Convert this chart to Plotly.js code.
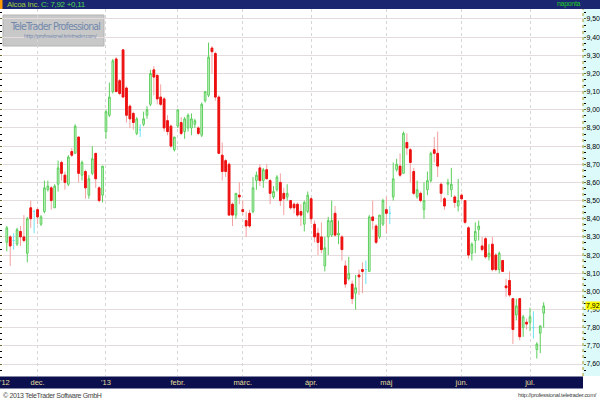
<!DOCTYPE html>
<html>
<head>
<meta charset="utf-8">
<script src="https://cdn.plot.ly/plotly-3.0.1.min.js"></script>
<style>html,body{margin:0;padding:0;background:#fff;}#chart{width:600px;height:400px;}</style>
</head>
<body>
<div id="chart"></div>
<script>
// ---- data (daily candles, Alcoa Inc.) ----
const dates = [
"2012-11-19","2012-11-20","2012-11-21","2012-11-23","2012-11-26","2012-11-27","2012-11-28","2012-11-29","2012-11-30",
"2012-12-03","2012-12-04","2012-12-05","2012-12-06","2012-12-07","2012-12-10","2012-12-11","2012-12-12","2012-12-13","2012-12-14",
"2012-12-17","2012-12-18","2012-12-19","2012-12-20","2012-12-21","2012-12-24","2012-12-26","2012-12-27","2012-12-28","2012-12-31",
"2013-01-02","2013-01-03","2013-01-04","2013-01-07","2013-01-08","2013-01-09","2013-01-10","2013-01-11","2013-01-14","2013-01-15",
"2013-01-16","2013-01-17","2013-01-18","2013-01-22","2013-01-23","2013-01-24","2013-01-25","2013-01-28","2013-01-29","2013-01-30","2013-01-31",
"2013-02-01","2013-02-04","2013-02-05","2013-02-06","2013-02-07","2013-02-08","2013-02-11","2013-02-12","2013-02-13","2013-02-14",
"2013-02-15","2013-02-19","2013-02-20","2013-02-21","2013-02-22","2013-02-25","2013-02-26","2013-02-27","2013-02-28",
"2013-03-01","2013-03-04","2013-03-05","2013-03-06","2013-03-07","2013-03-08","2013-03-11","2013-03-12","2013-03-13","2013-03-14",
"2013-03-15","2013-03-18","2013-03-19","2013-03-20","2013-03-21","2013-03-22","2013-03-25","2013-03-26","2013-03-27","2013-03-28",
"2013-04-01","2013-04-02","2013-04-03","2013-04-04","2013-04-05","2013-04-08","2013-04-09","2013-04-10","2013-04-11","2013-04-12",
"2013-04-15","2013-04-16","2013-04-17","2013-04-18","2013-04-19","2013-04-22","2013-04-23","2013-04-24","2013-04-25","2013-04-26",
"2013-04-29","2013-04-30",
"2013-05-01","2013-05-02","2013-05-03","2013-05-06","2013-05-07","2013-05-08","2013-05-09","2013-05-10","2013-05-13","2013-05-14",
"2013-05-15","2013-05-16","2013-05-17","2013-05-20","2013-05-21","2013-05-22","2013-05-23","2013-05-24","2013-05-28","2013-05-29",
"2013-05-30","2013-05-31",
"2013-06-03","2013-06-04","2013-06-05","2013-06-06","2013-06-07","2013-06-10","2013-06-11","2013-06-12","2013-06-13","2013-06-14",
"2013-06-17","2013-06-18","2013-06-19","2013-06-20","2013-06-21","2013-06-24","2013-06-25","2013-06-26","2013-06-27","2013-06-28",
"2013-07-01","2013-07-02","2013-07-03","2013-07-05","2013-07-08"
];
const open = [
8.27,8.30,8.28,8.26,8.33,8.30,8.21,8.46,8.44,
8.45,8.37,8.44,8.56,8.57,8.46,8.59,8.71,8.64,8.59,
8.77,8.76,8.85,8.64,8.66,8.53,8.65,8.76,8.57,8.53,
8.88,8.97,9.10,9.28,9.16,9.33,9.12,9.02,8.98,8.87,
8.89,8.92,8.97,9.03,9.22,9.19,9.07,9.06,8.94,8.91,8.78,
8.91,8.93,8.88,8.90,8.90,8.92,8.90,8.86,9.05,9.08,
9.34,9.31,9.07,8.75,8.72,8.70,8.48,8.42,8.53,
8.45,8.39,8.43,8.44,8.61,8.68,8.61,8.67,8.61,8.52,
8.56,8.60,8.54,8.52,8.50,8.48,8.48,8.44,8.37,8.44,
8.51,8.37,8.32,8.30,8.14,8.30,8.31,8.43,8.31,8.30,
8.14,8.07,8.04,7.99,8.09,8.12,8.12,8.11,8.41,8.36,
8.30,8.37,
8.45,8.43,8.52,8.67,8.69,8.65,8.82,8.78,8.66,8.52,
8.54,8.45,8.56,8.61,8.78,8.76,8.59,8.51,8.59,8.56,
8.52,8.47,
8.53,8.50,8.35,8.21,8.28,8.34,8.25,8.29,8.19,8.26,
8.20,8.12,8.17,8.03,8.06,7.96,7.87,7.96,7.80,7.83,
7.83,7.80,7.68,7.77,7.88
];
const high = [
8.36,8.31,8.32,8.35,8.36,8.42,8.41,8.50,8.45,
8.46,8.42,8.61,8.61,8.58,8.59,8.72,8.72,8.66,8.75,
8.79,8.92,8.85,8.72,8.67,8.64,8.80,8.76,8.58,8.69,
9.00,9.15,9.28,9.29,9.17,9.33,9.13,9.03,8.99,8.96,
8.92,8.99,9.02,9.22,9.24,9.19,9.14,9.07,8.97,8.92,8.85,
9.00,8.96,8.96,8.98,8.98,8.95,8.91,9.04,9.10,9.37,
9.35,9.32,9.08,8.82,8.73,8.71,8.49,8.54,8.60,
8.50,8.44,8.45,8.63,8.66,8.70,8.68,8.70,8.62,8.58,
8.64,8.65,8.57,8.59,8.50,8.49,8.49,8.48,8.50,8.55,
8.52,8.39,8.35,8.38,8.30,8.41,8.50,8.47,8.39,8.31,
8.17,8.19,8.06,8.09,8.12,8.16,8.17,8.42,8.50,8.37,
8.42,8.51,
8.52,8.47,8.71,8.73,8.76,8.88,8.87,8.79,8.68,8.61,
8.55,8.60,8.66,8.77,8.85,8.88,8.60,8.52,8.62,8.68,
8.53,8.62,
8.54,8.50,8.36,8.27,8.38,8.39,8.30,8.30,8.26,8.30,
8.21,8.22,8.17,8.07,8.11,7.96,7.96,7.96,7.87,7.85,
7.91,7.89,7.72,7.81,7.94
];
const low = [
8.22,8.14,8.23,8.25,8.25,8.27,8.16,8.35,8.32,
8.37,8.36,8.43,8.55,8.45,8.46,8.55,8.61,8.56,8.58,
8.74,8.76,8.60,8.61,8.51,8.51,8.64,8.57,8.49,8.49,
8.84,8.96,9.09,9.10,9.08,9.07,8.93,8.90,8.89,8.86,
8.85,8.91,8.95,9.02,9.08,9.03,9.02,8.88,8.86,8.79,8.77,
8.90,8.86,8.84,8.88,8.86,8.90,8.86,8.85,9.04,9.07,
9.20,9.05,8.76,8.61,8.63,8.42,8.36,8.40,8.48,
8.42,8.30,8.35,8.43,8.56,8.58,8.57,8.62,8.48,8.51,
8.55,8.47,8.42,8.50,8.45,8.43,8.41,8.36,8.33,8.43,
8.37,8.27,8.20,8.21,8.11,8.20,8.30,8.30,8.26,8.17,
8.02,8.06,7.93,7.90,7.98,7.99,8.04,8.11,8.34,8.26,
8.29,8.36,
8.32,8.37,8.50,8.66,8.63,8.65,8.75,8.60,8.53,8.51,
8.49,8.40,8.53,8.60,8.71,8.63,8.49,8.45,8.53,8.52,
8.46,8.44,
8.50,8.37,8.18,8.17,8.21,8.28,8.22,8.18,8.17,8.11,
8.11,8.10,8.11,7.97,7.97,7.71,7.84,7.73,7.75,7.79,
7.78,7.74,7.63,7.66,7.80
];
const close = [
8.35,8.25,8.28,8.34,8.30,8.28,8.40,8.40,8.44,
8.41,8.41,8.57,8.58,8.50,8.58,8.68,8.65,8.60,8.74,
8.75,8.91,8.65,8.71,8.57,8.62,8.73,8.62,8.50,8.69,
8.99,9.07,9.27,9.10,9.09,9.07,8.97,8.95,8.93,8.95,
8.89,8.95,9.00,9.20,9.18,9.06,9.03,8.90,8.88,8.80,8.85,
9.00,8.87,8.95,8.97,8.95,8.94,8.87,9.03,9.10,9.29,
9.32,9.07,8.76,8.66,8.66,8.42,8.42,8.54,8.52,
8.44,8.36,8.36,8.57,8.64,8.61,8.67,8.62,8.54,8.55,
8.63,8.50,8.51,8.54,8.46,8.46,8.42,8.42,8.49,8.53,
8.40,8.30,8.27,8.23,8.24,8.39,8.39,8.31,8.32,8.23,
8.04,8.10,7.96,8.02,8.08,8.11,8.12,8.41,8.39,8.27,
8.42,8.50,
8.43,8.43,8.62,8.70,8.64,8.87,8.79,8.71,8.54,8.56,
8.50,8.50,8.61,8.76,8.76,8.69,8.54,8.47,8.60,8.59,
8.49,8.50,
8.51,8.38,8.20,8.26,8.33,8.36,8.23,8.19,8.21,8.12,
8.12,8.21,8.11,8.02,7.98,7.79,7.92,7.75,7.86,7.82,
7.86,7.80,7.71,7.81,7.92
];
const monthTicks = ["2012-12-03","2013-01-02","2013-02-01","2013-03-01","2013-04-01","2013-05-01","2013-06-03","2013-07-01"];
const monthLabels = ["dec.","'13","febr.","márc.","ápr.","máj","jún.","júl."];
const firstYearLabel = "'12";
const instrument = "Alcoa Inc.";

// ---- split candles by kind ----
function pick(arr, idx){ return idx.map(i => arr[i]); }
const upIdx = [], downIdx = [], dojiIdx = [];
close.forEach((c, i) => { if (c > open[i]) upIdx.push(i); else if (c < open[i]) downIdx.push(i); else dojiIdx.push(i); });

const common = { type: 'candlestick', hoverinfo: 'skip', showlegend: false, whiskerwidth: 0 };
const upTrace = Object.assign({}, common, {
  x: pick(dates, upIdx), open: pick(open, upIdx), high: pick(high, upIdx), low: pick(low, upIdx), close: pick(close, upIdx),
  increasing: { line: { color: '#5ccf5c', width: 1 }, fillcolor: '#d4f6d4' },
  decreasing: { line: { color: '#5ccf5c', width: 1 }, fillcolor: '#d4f6d4' }
});
const downWick = Object.assign({}, common, {
  x: pick(dates, downIdx), open: pick(open, downIdx), high: pick(high, downIdx), low: pick(low, downIdx), close: pick(close, downIdx),
  increasing: { line: { color: '#f4a0a0', width: 1 }, fillcolor: '#ee1111' },
  decreasing: { line: { color: '#f4a0a0', width: 1 }, fillcolor: '#ee1111' }
});
const downBody = Object.assign({}, common, {
  x: pick(dates, downIdx), open: pick(open, downIdx), close: pick(close, downIdx),
  high: pick(open, downIdx), low: pick(close, downIdx),
  increasing: { line: { color: '#ee1111', width: 1 }, fillcolor: '#ee1111' },
  decreasing: { line: { color: '#ee1111', width: 1 }, fillcolor: '#ee1111' }
});
const dojiTrace = Object.assign({}, common, {
  x: pick(dates, dojiIdx), open: pick(open, dojiIdx), high: pick(high, dojiIdx), low: pick(low, dojiIdx), close: pick(close, dojiIdx),
  increasing: { line: { color: '#6fe3f2', width: 1 }, fillcolor: '#6fe3f2' },
  decreasing: { line: { color: '#6fe3f2', width: 1 }, fillcolor: '#6fe3f2' }
});

// ---- layout helpers (pixel -> paper) ----
const W = 600, H = 400, L = 3, R = 17, T = 9, B = 24;
const PW = W - L - R, PH = H - T - B;
const px = x => (x - L) / PW;
const py = y => (H - B - y) / PH;

const last = close[close.length - 1];
const chg = last - close[close.length - 2];
const fmt = v => v.toFixed(2).replace('.', ',');
const narrow = "'Liberation Sans Narrow', 'DejaVu Sans Condensed', 'Liberation Sans', sans-serif";
const sans = "'Liberation Sans', Arial, sans-serif";
const tight = (t, ls) => '<span style="letter-spacing:' + ls + 'px">' + t + '</span>';

const layout = {
  width: W, height: H, autosize: false,
  margin: { l: L, r: R, t: T, b: B, pad: 0 },
  paper_bgcolor: '#ffffff', plot_bgcolor: '#ffffff',
  separators: ', ',
  showlegend: false,
  font: { family: sans, size: 8, color: '#000' },
  xaxis: {
    type: 'category', categoryorder: 'array', categoryarray: dates,
    range: [-1.11, 168.5], rangeslider: { visible: false },
    tickmode: 'array', tickvals: monthTicks, ticktext: monthLabels,
    ticks: '', showline: false, zeroline: false,
    showgrid: true, gridcolor: '#d6d6d6', griddash: 'dot', gridwidth: 1,
    tickfont: { family: sans, size: 7.5, color: '#e4dc9a' },
    tickangle: 0, fixedrange: true
  },
  yaxis: {
    side: 'right', range: [7.534, 9.555], tick0: 7.6, dtick: 0.1, tickformat: '.2f',
    showgrid: true, gridcolor: '#e4dcdc', gridwidth: 1, zeroline: false,
    ticks: 'outside', ticklen: 2, tickcolor: '#6a6a30', mirror: 'ticks',
    ticklabelstandoff: -1,
    showline: false,
    tickfont: { family: sans, size: 7, color: '#000' },
    minor: { dtick: 0.1 / 3, ticks: 'outside', ticklen: 2, tickcolor: '#000', showgrid: false },
    fixedrange: true
  },
  shapes: [
    { type: 'rect', xref: 'paper', yref: 'paper', x0: 1, x1: px(W), y0: 0, y1: 1, fillcolor: '#dcfafa', line: { width: 0 }, layer: 'below' },
    { type: 'rect', xref: 'paper', yref: 'paper', x0: px(0), x1: px(W), y0: 1, y1: py(0), fillcolor: '#1b2670', line: { width: 0 }, layer: 'below' },
    { type: 'rect', xref: 'paper', yref: 'paper', x0: px(0), x1: px(2.5), y0: 1, y1: py(0), fillcolor: '#ff9a00', line: { width: 0 }, layer: 'below' },
    { type: 'rect', xref: 'paper', yref: 'paper', x0: px(0), x1: 1, y0: py(388.5), y1: py(376.5), fillcolor: '#0b0f4d', line: { width: 0 }, layer: 'below' },
    { type: 'line', xref: 'paper', yref: 'paper', x0: 1, x1: 1, y0: 0, y1: 1, line: { color: '#a89a20', width: 1, dash: 'dot' } },
    { type: 'rect', xref: 'paper', yref: 'paper', x0: px(3), x1: px(104), y0: py(46), y1: py(15), fillcolor: '#c8c8c8', line: { color: '#b4b4b4', width: 1 }, layer: 'between' }
  ],
  annotations: [
    { xref: 'paper', yref: 'paper', x: px(5), y: py(4.5), xanchor: 'left', yanchor: 'middle', showarrow: false,
      text: tight('<span style="color:#9ccc3a">' + instrument + '</span> <span style="color:#4fd84f">C: ' + fmt(last) + ' ' + (chg >= 0 ? '+' : '') + fmt(chg) + '</span>', -0.3),
      font: { family: sans, size: 8 } },
    { xref: 'paper', yref: 'paper', x: px(583), y: py(4.5), xanchor: 'right', yanchor: 'middle', showarrow: false,
      text: tight('naponta', -0.3), font: { family: sans, size: 7, color: '#22cc22' } },
    { xref: 'paper', yref: 'paper', x: px(55), y: py(25.5), xanchor: 'center', yanchor: 'middle', showarrow: false,
      text: tight('TeleTrader Professional', -0.8), font: { family: narrow, size: 10.5, color: '#7388ad' } },
    { xref: 'paper', yref: 'paper', x: px(60), y: py(36.5), xanchor: 'center', yanchor: 'middle', showarrow: false,
      text: tight('http://professional.teletrader.com/', -0.35), font: { family: narrow, size: 5.5, color: '#7388ad' } },
    { xref: 'paper', yref: 'y', x: px(585), y: last, xanchor: 'left', yanchor: 'middle', showarrow: false,
      text: fmt(last), bgcolor: '#ffff00', borderpad: 0, font: { family: sans, size: 7, color: '#000' } },
    { xref: 'paper', yref: 'paper', x: px(5), y: py(382.5), xanchor: 'center', yanchor: 'middle', showarrow: false,
      text: firstYearLabel, font: { family: sans, size: 7.5, color: '#e4dc9a' } },
    { xref: 'paper', yref: 'paper', x: px(1), y: py(395), xanchor: 'left', yanchor: 'middle', showarrow: false,
      text: tight('© 2013 TeleTrader Software GmbH', -0.35), font: { family: sans, size: 7, color: '#444' } },
    { xref: 'paper', yref: 'paper', x: px(599), y: py(395), xanchor: 'right', yanchor: 'middle', showarrow: false,
      text: tight('http://professional.teletrader.com/', -0.3), font: { family: sans, size: 6, color: '#444' } }
  ]
};

Plotly.newPlot('chart', [upTrace, downWick, downBody, dojiTrace], layout, { staticPlot: true, displayModeBar: false });
</script>
</body>
</html>
